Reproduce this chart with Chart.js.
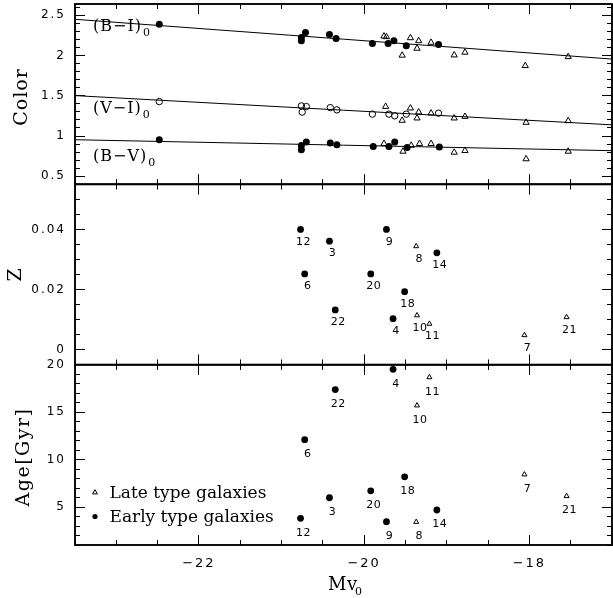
<!DOCTYPE html>
<html><head><meta charset="utf-8">
<script src="https://cdn.jsdelivr.net/npm/chart.js@4.4.0/dist/chart.umd.min.js"></script>
<style>html,body{margin:0;padding:0;background:#fff;}#wrap{position:relative;width:613px;height:598px;}canvas{display:block;}#ov{position:absolute;left:0;top:0;pointer-events:none;}</style>
</head><body>
<div id="wrap">
<canvas id="c" width="613" height="598"></canvas>
<canvas id="ov" width="613" height="598"></canvas>
</div>
<script>
// ---------- axis settings ----------
const mvRange = [-23.5, -17];
const colorRange = [0.4, 2.64];
const zRange = [-0.005, 0.055];
const ageRange = [1, 20];
const mvTickLabels = [-22, -20, -18];      const mvMinorStep = 0.5;
const colorTickLabels = [0.5, 1, 1.5, 2, 2.5]; const colorMinorStep = 0.1;
const zTickLabels = [0, 0.02, 0.04];       const zMinorStep = 0.005;
const ageTickLabels = [5, 10, 15, 20];     const ageMinorStep = 1;

// ---------- colour panel: fit lines ----------
const fitMv = [-23.5, -17];
const fitBI = [2.45, 1.956];
const fitVI = [1.502, 1.139];
const fitBV = [0.954, 0.818];

// ---------- colour panel: early type (circles) ----------
const earlyBIMv = [-22.48, -20.76, -20.76, -20.71, -20.42, -20.34, -19.90, -19.71, -19.64, -19.49, -19.10];
const earlyBI   = [2.389, 2.224, 2.182, 2.286, 2.261, 2.212, 2.150, 2.150, 2.182, 2.120, 2.138];
const earlyVIMv = [-22.48, -20.76, -20.70, -20.75, -20.41, -20.33, -19.90, -19.70, -19.63, -19.49, -19.10];
const earlyVI   = [1.428, 1.374, 1.366, 1.297, 1.353, 1.325, 1.272, 1.272, 1.251, 1.272, 1.284];
const earlyBVMv = [-22.48, -20.76, -20.76, -20.70, -20.41, -20.33, -19.89, -19.70, -19.63, -19.48, -19.09];
const earlyBV   = [0.954, 0.883, 0.830, 0.925, 0.913, 0.892, 0.871, 0.871, 0.925, 0.859, 0.864];

// ---------- colour panel: late type (triangles) ----------
const lateBIMv = [-19.76, -19.73, -19.54, -19.44, -19.34, -19.36, -19.19, -18.91, -18.78, -18.05, -17.53];
const lateBI   = [2.240, 2.232, 2.002, 2.219, 2.182, 2.088, 2.162, 2.005, 2.039, 1.873, 1.984];
const lateVIMv = [-19.74, -19.54, -19.44, -19.34, -19.36, -19.19, -18.91, -18.78, -18.04, -17.53];
const lateVI   = [1.366, 1.193, 1.346, 1.297, 1.222, 1.284, 1.222, 1.242, 1.168, 1.189];
const lateBVMv = [-19.76, -19.53, -19.43, -19.33, -19.19, -18.91, -18.78, -18.04, -17.53];
const lateBV   = [0.905, 0.809, 0.883, 0.905, 0.905, 0.797, 0.818, 0.715, 0.809];

// ---------- metallicity / age, numbered galaxies ----------
const earlyIds = [3, 4, 6, 9, 12, 14, 18, 20, 22];
const earlyMv  = [-20.42, -19.65, -20.72, -19.73, -20.77, -19.12, -19.51, -19.92, -20.35];
const earlyZ   = [0.0361, 0.0103, 0.0252, 0.0400, 0.0400, 0.0322, 0.0193, 0.0252, 0.0132];
const earlyAge = [5.98, 19.51, 12.10, 3.46, 3.81, 4.69, 8.18, 6.71, 17.38];
const lateIds  = [7, 8, 10, 11, 21];
const lateMv   = [-18.06, -19.37, -19.36, -19.21, -17.55];
const lateZ    = [0.0048, 0.0344, 0.0114, 0.0086, 0.0108];
const lateAge  = [8.43, 3.43, 15.70, 18.67, 6.15];

// ---------- helpers ----------
const pts = (xs, ys) => xs.map((x, i) => ({x: x, y: ys[i]}));
function tickValues(min, max, step) {
  const out = [];
  const k0 = Math.ceil(min / step - 1e-9), k1 = Math.floor(max / step + 1e-9);
  for (let k = k0; k <= k1; k++) out.push(+(k * step).toFixed(6));
  return out;
}
const isMajor = (v, arr) => arr.some(a => Math.abs(a - v) < 1e-9);
const fmt = v => (v < 0 ? '\u2212' : '') + String(+Math.abs(v).toFixed(4));
const tickFont = {family: 'DejaVu Sans', size: 12};

function yScale(range, labels, step) {
  return {
    type: 'linear', position: 'left', stack: 'panels', stackWeight: 1,
    min: range[0], max: range[1],
    grid: {display: false, drawTicks: false}, border: {display: false},
    ticks: {autoSkip: false, padding: 9, color: '#000', font: tickFont,
            callback: v => isMajor(v, labels) ? fmt(v) : ''},
    afterBuildTicks: s => { s.ticks = tickValues(range[0], range[1], step).map(v => ({value: v})); },
    afterFit: s => { s.width = 75; s.paddingTop = 0; s.paddingBottom = 0; }
  };
}

const K = '#000', NONE = 'rgba(0,0,0,0)';
function line(data, y) {
  return {data: data, yAxisID: y, showLine: true, borderColor: K, borderWidth: 1, pointRadius: 0, fill: false};
}
function filled(data, y, r, extra) {
  return Object.assign({data: data, yAxisID: y, pointStyle: 'circle', pointRadius: r,
    pointBackgroundColor: K, pointBorderColor: K, pointBorderWidth: 0}, extra || {});
}
function openCircle(data, y, r) {
  return {data: data, yAxisID: y, pointStyle: 'circle', pointRadius: r,
    pointBackgroundColor: NONE, pointBorderColor: K, pointBorderWidth: 1};
}
function tri(data, y, r, extra) {
  return Object.assign({data: data, yAxisID: y, pointStyle: 'triangle', pointRadius: r,
    pointBackgroundColor: NONE, pointBorderColor: K, pointBorderWidth: 1}, extra || {});
}

const panels = [
  {id: 'yColor', range: colorRange, labels: colorTickLabels, step: colorMinorStep},
  {id: 'yZ', range: zRange, labels: zTickLabels, step: zMinorStep},
  {id: 'yAge', range: ageRange, labels: ageTickLabels, step: ageMinorStep}
];

function txt(ctx, s, x, y, font, align, base, spacing) {
  ctx.font = font; ctx.textAlign = align || 'left'; ctx.textBaseline = base || 'alphabetic';
  ctx.letterSpacing = spacing || '0px';
  ctx.fillText(s, x, y);
}
function rotTxt(ctx, s, cx, cy, font, spacing) {
  ctx.save(); ctx.translate(cx, cy); ctx.rotate(-Math.PI / 2);
  txt(ctx, s, 0, 0, font, 'center', 'middle', spacing);
  ctx.restore();
}
function scalePix(s, v, range, horizontal) {
  let p = s.getPixelForValue(v);
  const lo = horizontal ? s.left : s.top, hi = horizontal ? s.right : s.bottom;
  if (!isFinite(p) || p < lo - 1 || p > hi + 1) {
    const f = (v - range[0]) / (range[1] - range[0]);
    p = horizontal ? s.left + f * (s.right - s.left) : s.bottom - f * (s.bottom - s.top);
  }
  return p;
}

// panel frames with inward ticks, positioned by the chart's scales
function drawFrames(ctx, chart) {
  const xs = chart.scales.x;
  const L = xs.left, R = xs.right;
  const xVals = tickValues(mvRange[0], mvRange[1], mvMinorStep);
  ctx.save();
  ctx.fillStyle = K; ctx.strokeStyle = K; ctx.globalAlpha = 1;
  panels.forEach(p => {
    const ys = chart.scales[p.id];
    const T = ys.top, B = ys.bottom;
    tickValues(p.range[0], p.range[1], p.step).forEach(v => {
      const py = Math.floor(scalePix(ys, v, p.range, false));
      const len = isMajor(v, p.labels) ? 10 : 5;
      ctx.fillRect(L, py, len, 1);
      ctx.fillRect(R - len, py, len, 1);
    });
    xVals.forEach(v => {
      const px = Math.floor(scalePix(xs, v, mvRange, true));
      const len = isMajor(v, mvTickLabels) ? 10 : 5;
      ctx.fillRect(px, T, 1, len);
      ctx.fillRect(px, B - len, 1, len);
    });
    ctx.lineWidth = 1.5;
    ctx.strokeRect(L, T, R - L, B - T);
  });
  ctx.restore();
}
function drawOverlay(chart) {
  const ov = document.getElementById('ov');
  const octx = ov.getContext('2d');
  octx.clearRect(0, 0, ov.width, ov.height);
  drawFrames(octx, chart);
}

const decor = {
  id: 'decor',
  beforeDraw(chart) { chart.ctx.letterSpacing = '2px'; },
  beforeDatasetsDraw(chart) { chart.ctx.letterSpacing = '0px'; },
  afterDatasetsDraw(chart) {
    const ctx = chart.ctx;
    ctx.save(); ctx.fillStyle = K;
    chart.data.datasets.forEach((ds, i) => {
      if (!ds.ids) return;
      chart.getDatasetMeta(i).data.forEach((el, j) => {
        txt(ctx, String(ds.ids[j]), el.x + 3, el.y + ds.labelDy, '11px "DejaVu Sans"', 'center', 'middle', '0.5px');
      });
    });
    ctx.restore();
  },
  afterDraw(chart) {
    const ctx = chart.ctx;
    ctx.save();
    ctx.fillStyle = K; ctx.strokeStyle = K;
    rotTxt(ctx, 'Color', 22, 97, '19px "DejaVu Serif"', '1px');
    rotTxt(ctx, 'Z', 16, 275, '19px "DejaVu Serif"', '0px');
    rotTxt(ctx, 'Age[Gyr]', 24, 457, '19px "DejaVu Serif"', '1.5px');
    txt(ctx, 'Mv', 328, 590, '18px "DejaVu Serif"', 'left', 'alphabetic', '0.5px');
    txt(ctx, '0', 355, 595, '11px "DejaVu Serif"', 'left', 'alphabetic', '0px');
    const bands = [['(B\u2212I)', 31], ['(V\u2212I)', 112.5], ['(B\u2212V)', 160.5]];
    bands.forEach(b => {
      txt(ctx, b[0], 93, b[1], '16px "DejaVu Serif"', 'left', 'alphabetic', '1px');
      const w = ctx.measureText(b[0]).width;
      txt(ctx, '0', 93 + w + 1, b[1] + 5, '11px "DejaVu Serif"', 'left', 'alphabetic', '0px');
    });
    ctx.lineWidth = 1;
    const tx = 95, ty = 492.5, r = 2.8;
    ctx.beginPath();
    ctx.moveTo(tx, ty - r); ctx.lineTo(tx + r * 0.866, ty + r * 0.5); ctx.lineTo(tx - r * 0.866, ty + r * 0.5); ctx.closePath(); ctx.stroke();
    txt(ctx, 'Late type galaxies', 109.5, 497.5, '17px "DejaVu Serif"', 'left', 'alphabetic', '0px');
    ctx.beginPath(); ctx.arc(95, 516.5, 2.6, 0, Math.PI * 2); ctx.fill();
    txt(ctx, 'Early type galaxies', 109.5, 521.5, '17px "DejaVu Serif"', 'left', 'alphabetic', '0px');
    ctx.letterSpacing = '0px';
    ctx.restore();
    drawFrames(ctx, chart);
  },
  afterRender(chart) { drawOverlay(chart); }
};

const chart = new Chart(document.getElementById('c'), {
  type: 'scatter',
  data: {datasets: [
    line(pts(fitMv, fitBI), 'yColor'),
    line(pts(fitMv, fitVI), 'yColor'),
    line(pts(fitMv, fitBV), 'yColor'),
    filled(pts(earlyBIMv, earlyBI), 'yColor', 3.5),
    openCircle(pts(earlyVIMv, earlyVI), 'yColor', 3.2),
    filled(pts(earlyBVMv, earlyBV), 'yColor', 3.5),
    tri(pts(lateBIMv, lateBI), 'yColor', 3.6),
    tri(pts(lateVIMv, lateVI), 'yColor', 3.6),
    tri(pts(lateBVMv, lateBV), 'yColor', 3.6),
    filled(pts(earlyMv, earlyZ), 'yZ', 3.4, {ids: earlyIds, labelDy: 12.5}),
    tri(pts(lateMv, lateZ), 'yZ', 2.9, {ids: lateIds, labelDy: 12.5}),
    filled(pts(earlyMv, earlyAge), 'yAge', 3.4, {ids: earlyIds, labelDy: 14.5}),
    tri(pts(lateMv, lateAge), 'yAge', 2.9, {ids: lateIds, labelDy: 14.5})
  ]},
  options: {
    responsive: false, animation: false, devicePixelRatio: 1, events: [],
    layout: {autoPadding: false, padding: {top: 4, right: 1, left: 0, bottom: 0}},
    plugins: {legend: {display: false}, tooltip: {enabled: false}},
    scales: {
      x: {
        type: 'linear', position: 'bottom', min: mvRange[0], max: mvRange[1],
        grid: {display: false, drawTicks: false}, border: {display: false},
        ticks: {autoSkip: false, maxRotation: 0, padding: 11, color: '#000', font: {family: 'DejaVu Sans', size: 13},
                callback: v => isMajor(v, mvTickLabels) ? fmt(v) : ''},
        afterBuildTicks: s => { s.ticks = tickValues(mvRange[0], mvRange[1], mvMinorStep).map(v => ({value: v})); },
        afterFit: s => { s.height = 53; s.paddingLeft = 0; s.paddingRight = 0; }
      },
      yAge: yScale(ageRange, ageTickLabels, ageMinorStep),
      yZ: yScale(zRange, zTickLabels, zMinorStep),
      yColor: yScale(colorRange, colorTickLabels, colorMinorStep)
    }
  },
  plugins: [decor]
});
drawOverlay(chart);
</script>
</body></html>
